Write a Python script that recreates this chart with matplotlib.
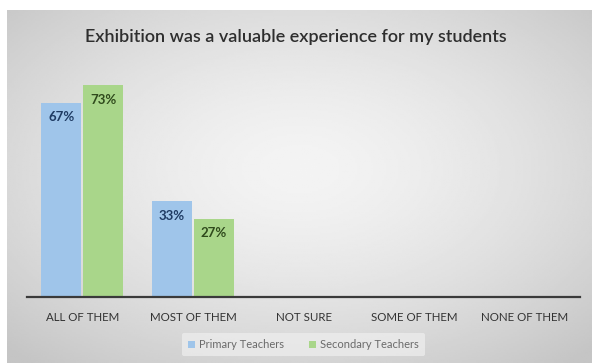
import matplotlib
matplotlib.use("Agg")
import matplotlib.pyplot as plt
import numpy as np

categories = ["ALL OF THEM", "MOST OF THEM", "NOT SURE", "SOME OF THEM", "NONE OF THEM"]
primary = [67, 33, 0, 0, 0]
secondary = [73, 27, 0, 0, 0]
series_names = ["Primary Teachers", "Secondary Teachers"]

W, H = 592, 363
fig = plt.figure(figsize=(W / 100, H / 100), dpi=100)
fig.patch.set_facecolor("white")

# grey radial backdrop behind the chart
bg = fig.add_axes([7 / W, 0, 1 - 7 / W, (H - 10) / H], zorder=0)
yy, xx = np.mgrid[0:1:200j, 0:1:300j]
r = np.sqrt(((xx - 0.5) / 0.6) ** 2 + ((yy - 0.45) / 0.6) ** 2)
shade = 0.955 - 0.14 * np.clip(r, 0, 1.2) ** 1.5
bg.imshow(shade, cmap="gray", vmin=0, vmax=1, aspect="auto", extent=[0, 1, 0, 1])
bg.axis("off")

ax = fig.add_axes([27 / W, 66 / H, 553 / W, 232 / H], zorder=1)
ax.set_facecolor("none")

x = np.arange(len(categories))
w = 0.36
blue, green = "#9fc5ea", "#a9d68a"
b1 = ax.bar(x - 0.19, primary, w, color=blue, label=series_names[0])
b2 = ax.bar(x + 0.19, secondary, w, color=green, label=series_names[1])

for bars, vals, col in [(b1, primary, "#1f3b63"), (b2, secondary, "#2f4a1c")]:
    for rect, v in zip(bars, vals):
        if v:
            ax.text(rect.get_x() + rect.get_width() / 2, v - 5, f"{v}%",
                    ha="center", va="center", fontsize=9.5, fontweight="bold",
                    color=col, family="Lato")

ax.set_xlim(-0.5, len(categories) - 0.5)
ax.set_ylim(0, 80)
ax.set_yticks([])
ax.set_xticks(x)
ax.set_xticklabels(categories, fontsize=8.3, color="#333333", family="Lato")
ax.tick_params(axis="x", length=0, pad=11)
for s in ["top", "right", "left"]:
    ax.spines[s].set_visible(False)
ax.spines["bottom"].set_color("#3a3a3a")
ax.spines["bottom"].set_linewidth(1.6)

fig.text(0.5, 1 - 37 / H, "Exhibition was a valuable experience for my students",
         ha="center", va="center", fontsize=13, fontweight="semibold",
         color="#2e2e2e", family="Lato")

leg = ax.legend(loc="center", bbox_to_anchor=(0.5, -0.205), ncol=2, fontsize=8,
                frameon=True, handlelength=0.6, handleheight=0.6,
                columnspacing=2.2, handletextpad=0.4, borderpad=0.55,
                borderaxespad=0)
leg.get_frame().set_facecolor("#ececec")
leg.get_frame().set_edgecolor("none")
for t in leg.get_texts():
    t.set_color("#6a6a6a")
    t.set_family("Lato")

fig.savefig("out.png", dpi=100)
